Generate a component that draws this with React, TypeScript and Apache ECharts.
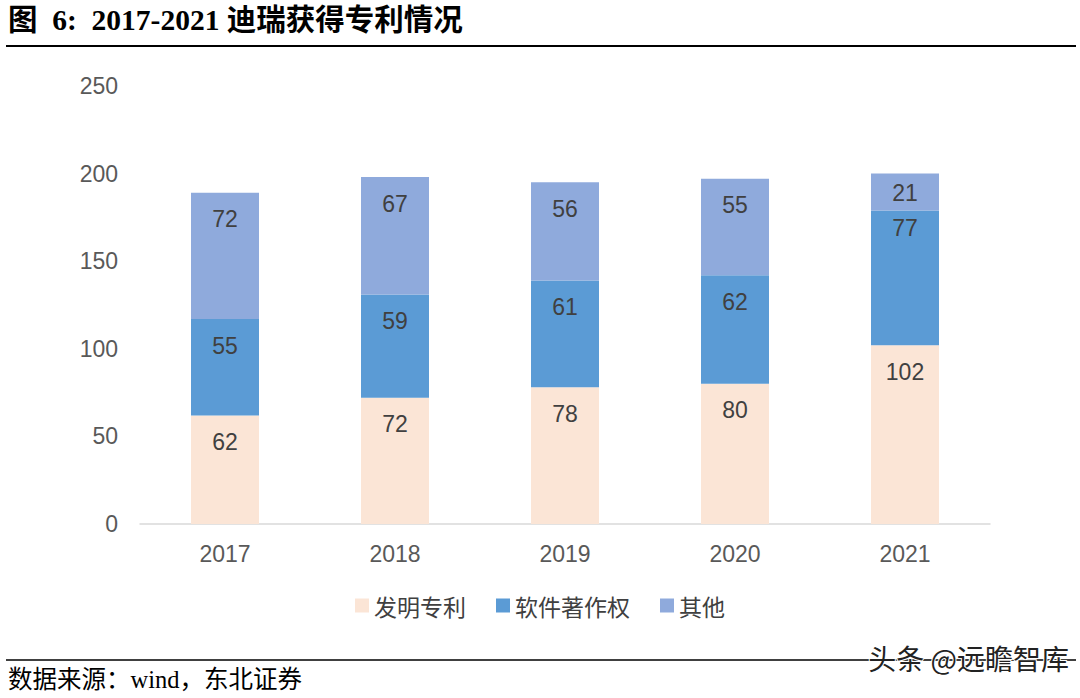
import React, { useEffect, useRef } from "react";
import * as echarts from "echarts";

const categories = ["2017", "2018", "2019", "2020", "2021"];
const invention = [62, 72, 78, 80, 102];
const software = [55, 59, 61, 62, 77];
const other = [72, 67, 56, 55, 21];
const seriesNames = ["发明专利", "软件著作权", "其他"];
const yTicks = { min: 0, max: 250, interval: 50 };

export default function App() {
  const ref = useRef<HTMLDivElement>(null);
  useEffect(() => {
    if (!ref.current) return;
    const chart = echarts.init(ref.current, null, { renderer: "svg" });
    const labelStyle = {
      show: true,
      position: "insideTop",
      distance: 15,
      color: "#404040",
      fontSize: 23,
      fontFamily: "Liberation Sans, Arial, sans-serif",
    };
    // label placements tuned per item (last bar's upper labels sit closer to the top)
    const withDistances = (vals: number[], lastDistance: number) =>
      vals.map((v, i) =>
        i === vals.length - 1 ? { value: v, label: { distance: lastDistance } } : v
      );
    chart.setOption({
      animation: false,
      backgroundColor: "#ffffff",
      grid: { left: 140, right: 90, top: 86, bottom: 174 },
      legend: {
        data: seriesNames,
        bottom: 76,
        left: "center",
        itemWidth: 14,
        itemHeight: 14,
        itemGap: 30,
        icon: "rect",
        textStyle: {
          fontSize: 23,
          color: "#404040",
          fontFamily: "Noto Sans CJK SC",
        },
      },
      xAxis: {
        type: "category",
        data: categories,
        axisLine: { lineStyle: { color: "#d9d9d9", width: 1.5 } },
        axisTick: { show: false },
        axisLabel: {
          fontSize: 23,
          color: "#595959",
          margin: 18,
          fontFamily: "Liberation Sans, Arial, sans-serif",
        },
      },
      yAxis: {
        type: "value",
        min: yTicks.min,
        max: yTicks.max,
        interval: yTicks.interval,
        splitLine: { show: false },
        axisLine: { show: false },
        axisTick: { show: false },
        axisLabel: {
          fontSize: 23,
          color: "#595959",
          margin: 22,
          fontFamily: "Liberation Sans, Arial, sans-serif",
        },
      },
      series: [
        {
          name: seriesNames[0],
          type: "bar",
          stack: "total",
          data: invention,
          barWidth: "40%",
          itemStyle: { color: "#fbe5d6" },
          label: labelStyle,
        },
        {
          name: seriesNames[1],
          type: "bar",
          stack: "total",
          data: withDistances(software, 6),
          barWidth: "40%",
          itemStyle: { color: "#5b9bd5" },
          label: labelStyle,
        },
        {
          name: seriesNames[2],
          type: "bar",
          stack: "total",
          data: withDistances(other, 8),
          barWidth: "40%",
          itemStyle: { color: "#8faadc" },
          label: labelStyle,
        },
      ],
      graphic: [
        {
          type: "text",
          left: 8,
          top: 5,
          style: {
            text: "图  6:  2017-2021 迪瑞获得专利情况",
            fontSize: 29.5,
            fontWeight: "bold",
            fill: "#000",
            fontFamily: "Liberation Serif, Noto Sans CJK SC, serif",
          },
        },
        {
          type: "line",
          shape: { x1: 6, y1: 46, x2: 1076, y2: 46 },
          style: { stroke: "#000", lineWidth: 2 },
        },
        {
          type: "line",
          shape: { x1: 6, y1: 660, x2: 1076, y2: 660 },
          style: { stroke: "#000", lineWidth: 1.5 },
        },
        {
          type: "text",
          left: 8,
          top: 667,
          style: {
            text: "数据来源：wind，东北证券",
            fontSize: 24.5,
            fill: "#000",
            fontFamily: "Liberation Serif, Noto Sans CJK SC, serif",
          },
        },
        {
          type: "text",
          right: 10,
          top: 643,
          style: {
            text: "头条 @远瞻智库",
            fontSize: 28,
            fill: "#222",
            stroke: "#fff",
            lineWidth: 2,
            fontFamily: "Noto Sans CJK SC",
          },
        },
      ],
    });
    return () => chart.dispose();
  }, []);
  return (
    <div
      ref={ref}
      style={{ position: "fixed", left: 0, top: 0, width: 1080, height: 698 }}
    />
  );
}
